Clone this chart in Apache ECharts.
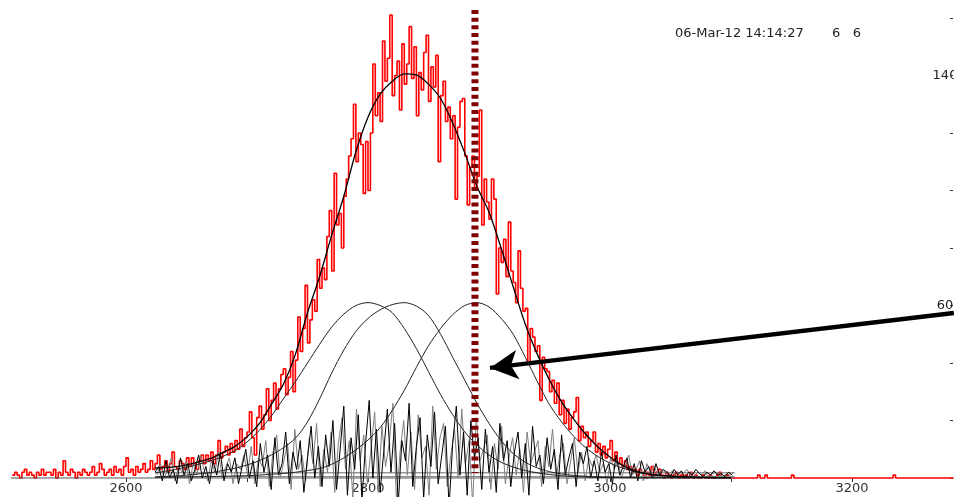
<!DOCTYPE html>
<html><head><meta charset="utf-8">
<script src="https://cdn.jsdelivr.net/npm/echarts@6/dist/echarts.min.js"></script>
<style>html,body{margin:0;padding:0;background:#fff}#c{width:954px;height:497px}</style>
</head><body><div id="c"></div>
<script>
// ---- data ----
const redStart = 2506;   // left edge of first bin (channel)
const redBin = 2;        // bin width (channels)
const redCounts = [
  // 2506 - 2622
  1,2,1,0,2,3,1,2,1,0, 2,1,3,1,2,2,1,3,0,2, 1,6,2,1,3,2,0,2,1,3,
  2,1,2,4,1,2,5,3,1,2, 3,1,4,2,3,1,4,7,2,3, 1,4,2,3,5,2,3,6,3,
  // 2624 - 2698
  5,8,3,4,6,2,5,9,4,3, 6,5,3,7,4,7,5,3,6,8, 5,8,6,9,5,8,13,7,9,11, 8,12,9,13,10,17,11,14,
  // 2700 - 2798
  16,23,14,8,21,25,17,22,31,20, 27,33,24,31,36,38,29,35,44,30,
  41,56,44,52,67,47,55,62,58,76, 66,73,69,84,93,72,106,88,92,80,
  98,104,112,118,130,110,120,116,99,117,
  // 2800 - 2898
  100,120,144,126,134,124,152,138,146,161, 133,140,145,128,151,137,144,157,139,150,
  126,141,135,148,154,131,143,136,147,110, 133,138,124,129,118,126,97,122,131,132,
  112,95,108,112,101,105,128,88,104,96,
  // 2900 - 2998
  90,104,97,64,80,75,83,70,89,72, 68,61,79,66,58,59,40,52,49,44,
  46,27,42,38,37,30,34,26,33,22, 27,19,24,17,21,23,28,13,18,14,
  16,11,13,16,9,12,8,11,7,10,
  // 3000 - 3100
  13,6,9,5,7,4,6,3,4,2, 3,1,3,2,0,2,1,4,1,2, 3,1,0,2,1,0,1,2,0,1,
  0,1,0,2,0,1,0,0,1,0, 0,1,0,0,1,2,0,0,1,0, 0,
  // 3102 - 3282
  0,0,0,0,0,0,0,0,0,0, 1,0,0,1,0,0,0,0,0,0, 0,0,0,0,1,0,0,0,0,0,
  0,0,0,0,0,0,0,0,0,0, 0,0,0,0,0,0,0,0,0,0, 0,0,0,0,0,0,0,0,0,0,
  0,0,0,0,0,0,1,0,0,0, 0,0,0,0,0,0,0,0,0,0, 0,0,0,0,0,0,0,0,0,0, 0
];

const curveX = [2624,2630,2640,2650,2660,2670,2680,2690,2700,2710,2720,2730,2740,2750,2760,2770,2780,2790,2800,2810,2820,2830,2840,2850,2860,2870,2880,2890,2900,2910,2920,2930,2940,2950,2960,2970,2980,2990,3000,3010,3020,3030,3040,3050,3060,3070,3080,3090,3100];
const fitY = [3.5,3.6,3.9,4.6,5.6,6.8,8.8,11.0,14.3,18.8,25.5,32.5,43,57.5,70,84.5,98,113.5,125.5,133.5,138,140.6,140.2,137,132,123.5,113,101.5,92.5,80,66.5,53.5,43,34,26.5,20.5,15.2,10.8,7.3,4.5,2.6,1.5,0.9,0.6,0.4,0.3,0.2,0.15,0.1];
const compA = [1.8,2.2,2.9,3.8,4.8,6.0,7.5,9.5,12.5,16.5,21.5,27.5,33.5,40,46.5,52.5,57,60,61,60,57.5,52,45,37,29,22,16,11.5,8,5.5,3.8,2.6,1.8,1.2,0.8,0.5,0.3,0.2,0.15,0.1,0.1,0.1,0.1,0.1,0.1,0.1,0.1,0.1,0.1];
const compB = [0.3,0.5,0.7,1.0,1.4,1.9,2.6,3.4,4.5,6.0,8.0,10.5,13.8,19.5,27.5,36.5,44.5,51,55.5,58.5,60.3,61,59.8,56.5,50,42,34,26,19,13,8.5,5.5,3.5,2.2,1.4,0.9,0.6,0.4,0.3,0.2,0.15,0.1,0.1,0.1,0.1,0.1,0.1,0.1,0.1];
const compC = [0.2,0.25,0.3,0.35,0.4,0.5,0.6,0.7,0.8,1.0,1.3,1.6,2.0,2.6,3.3,4.8,7,9.8,13.2,17.5,23.5,30.5,38.5,46,52,56.8,60,61,59.5,55.5,50,42,33.5,25.5,19.5,14.5,10.5,7.5,5.2,3.5,2.3,1.5,1.0,0.7,0.5,0.3,0.2,0.1,0.1];

const residBlackStart = 2624, residGrayStart = 2625.5, residStep = 3;
const residBlack = [
  2,4,-1,6,0,3,-2,7,1,5,-1,3,8,0,4,-2,6,1,9,-1,5,2,7,-2,4,10,
  0,6,-3,12,2,8,-4,14,1,5,16,-2,9,3,13,-5,7,18,0,11,-3,15,4,20,-4,
  10,25,-6,14,3,22,-8,12,27,0,17,-5,9,24,2,19,-9,13,6,26,-3,11,21,-7,15,4,23,-2,8,18,-10,12,25,1,16,-6,20,7,14,-4,
  17,2,11,-5,19,6,13,-3,9,16,0,12,-6,18,4,8,-2,14,3,10,-4,15,1,7,12,-3,9,5,11,0,
  6,-1,9,2,5,-2,8,1,4,7,0,5,-1,6,2,4,0,5,1,3,
  2,0.5,3,1,2.5,0,2,1,3,1.5,0.5,2,1,2.5,1,1.5,0.5,2,1
];
const residGray = [
  1,5,0,3,7,-1,4,2,6,-2,5,1,8,3,-1,6,2,9,0,4,7,-2,5,3,8,1,
  11,-2,7,4,13,-3,9,15,0,6,12,-4,17,3,8,-1,14,5,19,-3,10,2,16,-5,12,
  21,3,13,-7,24,6,15,-2,10,23,-5,18,4,12,26,-8,9,20,1,16,-4,22,7,11,-6,25,3,14,19,-3,8,17,0,24,5,13,-9,21,6,10,
  15,-4,12,3,18,-2,7,14,1,10,-5,16,5,9,13,-3,11,4,17,0,8,12,-2,6,14,2,9,-1,7,4,
  8,2,5,-2,7,3,6,0,4,8,1,3,6,-1,5,2,4,1,3,2,
  1,2.5,0.5,2,1.5,3,1,0.5,2,1,2.5,0,1.5,2,1,0.5,1.5,1,2
];
const baseLines = [ {y:0, from:2505, to:3103}, {y:1.8, from:2624, to:3103}, {y:0.5, from:2624, to:3103} ];
const markerX = 2888.4, markerTop = 162.8, markerBottom = 1.7;
const arrowFrom = [3284.2, 57.4], arrowTo = [2900.8, 38.3];
const xLabels = [2600, 2800, 3000, 3200];
const yLabels = [60, 140];
const stampText = '06-Mar-12 14:14:27';
const stampNums = '6   6';
// full-canvas data window (channel / counts at canvas edges)
const viewX = [2495.87, 3284.3];
const viewY = [-6.609, 166.261];

// ---- build ----
const redData = redCounts.map((v,i)=>[redStart + i*redBin, v]);
redData.push([redStart + redCounts.length*redBin, redCounts[redCounts.length-1]]);
const pairs = (xs, ys) => xs.map((x,i)=>[x, ys[i]]);
const resid = (start, ys) => ys.map((v,i)=>[start + i*residStep, v]);
const FONT = 'DejaVu Sans';

const lineS = (name, data, color, width, extra) => Object.assign({
  name, type:'line', data, symbol:'none', showSymbol:false, clip:true, silent:true,
  xAxisIndex:0, yAxisIndex:0,
  lineStyle:{color, width}, emphasis:{disabled:true}
}, extra||{});

const series = [
  lineS('counts', redData, '#ff0000', 1.6, {step:'end', z:1}),
  ...baseLines.map((b,i)=>lineS('base'+i, [[b.from,b.y],[b.to,b.y]], i===0?'#555':(i===1?'#666':'#888'), 1, {z:2})),
  lineS('residGray', resid(residGrayStart, residGray), '#808080', 1, {z:3}),
  lineS('residBlack', resid(residBlackStart, residBlack), '#000', 1, {z:4}),
  lineS('A', pairs(curveX, compA), '#222', 1, {smooth:0.3, z:5}),
  lineS('B', pairs(curveX, compB), '#222', 1, {smooth:0.3, z:5}),
  lineS('C', pairs(curveX, compC), '#222', 1, {smooth:0.3, z:5}),
  lineS('fit', pairs(curveX, fitY), '#000', 1.3, {smooth:0.3, z:6}),
  lineS('marker', [[markerX, markerTop],[markerX, markerBottom]], '#800000', 7,
        {z:7, lineStyle:{color:'#800000', width:7, type:[4,3.7], cap:'butt'}}),
  {
    name:'arrow', type:'line', data:[], xAxisIndex:0, yAxisIndex:0, silent:true, z:8,
    markLine:{
      silent:true, animation:false, symbol:['none','arrow'], symbolSize:[22,28],
      label:{show:false},
      lineStyle:{color:'#000', width:4.5, type:'solid'},
      emphasis:{disabled:true},
      data:[[{coord:arrowFrom},{coord:arrowTo}]]
    }
  }
];

const chart = echarts.init(document.getElementById('c'));
chart.setOption({
  animation:false,
  backgroundColor:'#fff',
  title:[
    {text:stampText, left:675, top:27, padding:0, textStyle:{fontFamily:FONT, fontSize:13, fontWeight:'normal', color:'#222'}},
    {text:stampNums, left:832, top:27, padding:0, textStyle:{fontFamily:FONT, fontSize:13, fontWeight:'normal', color:'#222'}}
  ],
  grid:[
    {left:0, right:0, top:0, bottom:0, containLabel:false, outerBoundsMode:'none'},
    {left:126, right:102, top:18, bottom:19, containLabel:false, outerBoundsMode:'none'}
  ],
  xAxis:[
    {type:'value', gridIndex:0, min:viewX[0], max:viewX[1], show:false},
    {
      type:'value', gridIndex:1, min:2600, max:3200, interval:100,
      axisLine:{show:false}, splitLine:{show:false},
      axisTick:{show:true, length:4, lineStyle:{color:'#333'}},
      axisLabel:{margin:4, color:'#333', fontFamily:FONT, fontSize:13,
        formatter:v=> xLabels.includes(v) ? String(v) : ''}
    }
  ],
  yAxis:[
    {type:'value', gridIndex:0, min:viewY[0], max:viewY[1], show:false},
    {
      type:'value', gridIndex:1, position:'right', offset:101, min:0, max:160, interval:20,
      axisLine:{show:false}, splitLine:{show:false},
      axisTick:{show:true, inside:true, length:3, lineStyle:{color:'#333'}},
      axisLabel:{inside:true, align:'center', margin:8, color:'#222', fontFamily:FONT, fontSize:13,
        formatter:v=> yLabels.includes(v) ? String(v) : ''}
    }
  ],
  series
});
</script></body></html>
